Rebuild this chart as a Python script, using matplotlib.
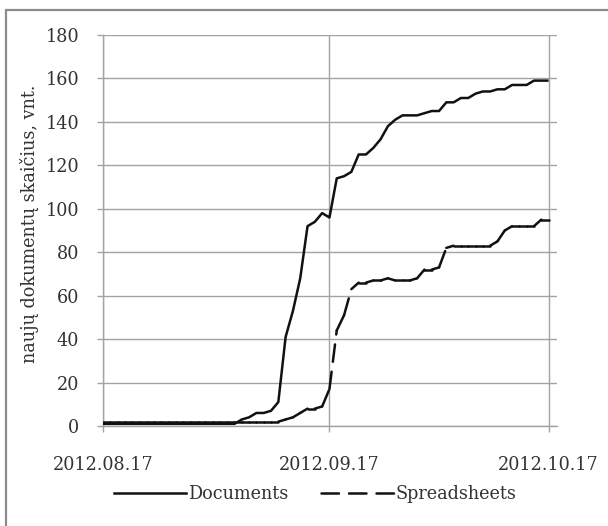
import matplotlib
matplotlib.use("Agg")
import matplotlib.pyplot as plt
import matplotlib.dates as mdates
from matplotlib.collections import LineCollection
from matplotlib.lines import Line2D
from matplotlib.patches import Rectangle
import pandas as pd

plt.rcParams['font.family'] = ['DejaVu Serif']
plt.rcParams['font.size'] = 12.7

# daily counts of new files, 2012.08.17 - 2012.10.17
dates = pd.date_range('2012-08-17', '2012-10-17', freq='D')

documents = [1] * 19 + [
    3, 4, 6, 6, 7, 11, 41, 53, 68, 92, 94, 98, 96, 114, 115, 117, 125, 125,
    128, 132, 138, 141, 143, 143, 143, 144, 145, 145, 149, 149, 151, 151,
    153, 154, 154, 155, 155, 157, 157, 157, 159, 159, 159,
]
spreadsheets = [2] * 24 + [
    2, 3, 4, 6, 8, 8, 9, 17, 44, 51, 63, 66, 66, 67, 67, 68, 67, 67, 67, 68,
    72, 72, 73, 82, 83, 83, 83, 83, 83, 83, 85, 90, 92, 92, 92, 92, 95, 95,
]
tick_dates = ['2012-08-17', '2012-09-17', '2012-10-17']

grid_col = '#a3a3a3'
line_col = '#111111'
text_col = '#333333'
dash = (0, (7, 4))

fig = plt.figure(figsize=(6.08, 5.26), dpi=100)
ax = fig.add_axes([103 / 608, 1 - 426 / 526, 454 / 608, 391 / 526])

x = mdates.date2num(dates)

ax.plot(x, documents, color=line_col, lw=1.8, solid_joinstyle='round',
        solid_capstyle='butt', zorder=3)

# each segment drawn on its own so the dash pattern restarts per segment
segs = [[(x[i], spreadsheets[i]), (x[i + 1], spreadsheets[i + 1])]
        for i in range(len(x) - 1)]
lc = LineCollection(segs, colors=line_col, linewidths=1.8, linestyles=dash,
                    capstyle='round', zorder=3)
ax.add_collection(lc)

ax.set_ylim(0, 180)
ax.set_yticks(range(0, 181, 20))
ax.set_xlim(x[0], x[-1] + 1.15)
ax.set_xticks(mdates.date2num(pd.to_datetime(tick_dates)))
ax.xaxis.set_major_formatter(mdates.DateFormatter('%Y.%m.%d'))

ax.grid(True, color=grid_col, lw=1.0)
ax.set_axisbelow(True)
for side in ['top', 'right']:
    ax.spines[side].set_visible(False)
for side in ['left', 'bottom']:
    ax.spines[side].set_color(grid_col)
    ax.spines[side].set_linewidth(1.0)

ax.tick_params(axis='y', length=4.3, width=1.0, color=grid_col, pad=13,
               labelcolor=text_col)
ax.tick_params(axis='x', length=4.3, width=1.0, color=grid_col, pad=17,
               labelcolor=text_col)

ax.set_ylabel('naujų dokumentų skaičius, vnt.', va='center', color=text_col)
ax.yaxis.set_label_coords(-0.161, 0.518)

handles = [
    Line2D([], [], color=line_col, lw=1.8),
    Line2D([], [], color=line_col, lw=1.8, linestyle=dash, dash_capstyle='round'),
]
leg = fig.legend(handles, ['Documents', 'Spreadsheets'], loc='center',
                 bbox_to_anchor=(315 / 608, 1 - 494 / 526), ncol=2,
                 frameon=False, handlelength=4.1, handletextpad=0.1,
                 columnspacing=1.9, borderpad=0, borderaxespad=0)
for t in leg.get_texts():
    t.set_color(text_col)

# chart frame
fig.patches.append(Rectangle((6 / 608, -0.1), 1.2, 1.1 - 10 / 526,
                             transform=fig.transFigure, fill=False,
                             edgecolor='#8c8c8c', lw=1.6))

fig.savefig('out.png', dpi=100)
